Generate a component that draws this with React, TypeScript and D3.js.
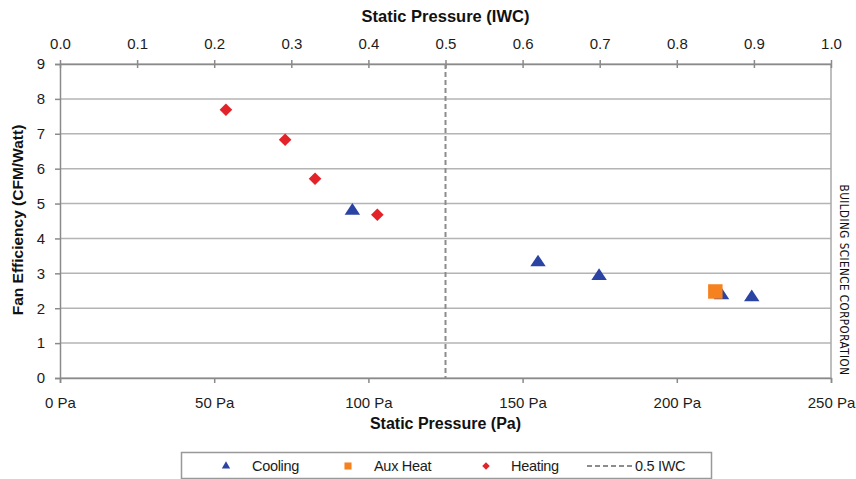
import { useEffect, useRef } from "react";
import * as d3 from "d3";

// values
const coolingPa = [94.8, 155.0, 174.8, 214.5, 224.3];
const coolingEff = [4.82, 3.34, 2.95, 2.4, 2.34];
const auxPa = [212.5];
const auxEff = [2.48];
const heatingPa = [53.8, 73.0, 82.7, 102.9];
const heatingEff = [7.69, 6.83, 5.71, 4.68];

const paTicks = [0, 50, 100, 150, 200, 250];
const iwcTicks = [0, 0.1, 0.2, 0.3, 0.4, 0.5, 0.6, 0.7, 0.8, 0.9, 1.0];
const effTicks = [0, 1, 2, 3, 4, 5, 6, 7, 8, 9];
const refLineIwc = 0.5;

const legendItems = ["Cooling", "Aux Heat", "Heating", "0.5 IWC"];

const BLUE = "#2b44a3";
const ORANGE = "#f5821f";
const RED = "#e3232a";
const FONT = "'Liberation Sans', Arial, sans-serif";

export default function App() {
  const svgRef = useRef<SVGSVGElement | null>(null);

  useEffect(() => {
    if (!svgRef.current) return;
    const svg = d3.select(svgRef.current);
    svg.selectAll("*").remove();

    const width = 856;
    const height = 479;
    const margin = { top: 64, right: 25, bottom: 101, left: 60 };
    const innerW = width - margin.left - margin.right;
    const innerH = height - margin.top - margin.bottom;

    const x = d3.scaleLinear().domain([0, 250]).range([0, innerW]);
    const xTop = d3.scaleLinear().domain([0, 1]).range([0, innerW]);
    const y = d3.scaleLinear().domain([0, 9]).range([innerH, 0]);

    const g = svg
      .append("g")
      .attr("transform", `translate(${margin.left},${margin.top})`)
      .style("font-family", FONT);

    // horizontal gridlines
    g.append("g")
      .selectAll("line")
      .data(effTicks)
      .join("line")
      .attr("x1", 0)
      .attr("x2", innerW)
      .attr("y1", (d) => y(d))
      .attr("y2", (d) => y(d))
      .attr("stroke", "#b4b4b4")
      .attr("stroke-width", 1.5);

    // right border
    g.append("line")
      .attr("x1", innerW)
      .attr("x2", innerW)
      .attr("y1", 0)
      .attr("y2", innerH)
      .attr("stroke", "#a8a8a8")
      .attr("stroke-width", 1.5);

    const styleAxis = (sel: d3.Selection<SVGGElement, unknown, null, undefined>) => {
      sel.selectAll("path,line").attr("stroke", "#8a8a8a").attr("stroke-width", 1.5);
      sel
        .selectAll("text")
        .attr("fill", "#1c1c1c")
        .style("font-family", FONT)
        .style("font-size", "15px");
    };

    // left axis
    const yAxis = g
      .append("g")
      .call(d3.axisLeft(y).tickValues(effTicks).tickFormat(d3.format("d")).tickSizeOuter(0).tickSize(5).tickPadding(10));
    styleAxis(yAxis);

    // bottom axis (Pa)
    const xAxis = g
      .append("g")
      .attr("transform", `translate(0,${innerH})`)
      .call(
        d3
          .axisBottom(x)
          .tickValues(paTicks)
          .tickFormat((d) => `${d} Pa`)
          .tickSizeOuter(0)
          .tickSize(5)
          .tickPadding(14),
      );
    styleAxis(xAxis);

    // top axis (IWC)
    const topAxis = g
      .append("g")
      .call(
        d3
          .axisTop(xTop)
          .tickValues(iwcTicks)
          .tickFormat(d3.format(".1f"))
          .tickSizeOuter(0)
          .tickSizeInner(4)
          .tickPadding(11),
      );
    styleAxis(topAxis);
    topAxis.selectAll(".tick line").attr("y2", 4).attr("y1", -4);

    // 0.5 IWC reference line
    g.append("line")
      .attr("x1", xTop(refLineIwc))
      .attr("x2", xTop(refLineIwc))
      .attr("y1", 0)
      .attr("y2", innerH)
      .attr("stroke", "#8c8c8c")
      .attr("stroke-width", 2)
      .attr("stroke-dasharray", "5,3");

    const tri = d3.symbol(d3.symbolTriangle, 78);
    const sq = d3.symbol(d3.symbolSquare, 210);
    const dia = d3.symbol(d3.symbolSquare, 80);

    const cooling = coolingPa.map((p, i) => ({ p, e: coolingEff[i] }));
    const aux = auxPa.map((p, i) => ({ p, e: auxEff[i] }));
    const heating = heatingPa.map((p, i) => ({ p, e: heatingEff[i] }));

    g.append("g")
      .selectAll("path")
      .data(cooling)
      .join("path")
      .attr("d", tri)
      .attr("transform", (d) => `translate(${x(d.p)},${y(d.e) + 1}) scale(1.15,1)`)
      .attr("fill", BLUE);

    g.append("g")
      .selectAll("path")
      .data(aux)
      .join("path")
      .attr("d", sq)
      .attr("transform", (d) => `translate(${x(d.p)},${y(d.e)})`)
      .attr("fill", ORANGE);

    g.append("g")
      .selectAll("path")
      .data(heating)
      .join("path")
      .attr("d", dia)
      .attr("transform", (d) => `translate(${x(d.p)},${y(d.e)}) rotate(45)`)
      .attr("fill", RED);

    // axis titles
    const boldTitle = (sel: d3.Selection<SVGTextElement, unknown, null, undefined>, size: string) =>
      sel
        .attr("text-anchor", "middle")
        .style("font-family", FONT)
        .style("font-size", size)
        .style("font-weight", "bold")
        .attr("fill", "#111");

    svg
      .append("text")
      .attr("x", margin.left + innerW / 2)
      .attr("y", 22)
      .call(boldTitle, "16.5px")
      .text("Static Pressure (IWC)");

    svg
      .append("text")
      .attr("x", margin.left + innerW / 2)
      .attr("y", 429)
      .call(boldTitle, "16px")
      .text("Static Pressure (Pa)");

    svg
      .append("text")
      .attr("transform", `translate(23,220) rotate(-90)`)
      .call(boldTitle, "15.5px")
      .text("Fan Efficiency (CFM/Watt)");

    svg
      .append("text")
      .attr("transform", `translate(840,${margin.top + innerH / 2 + 59}) rotate(90)`)
      .attr("text-anchor", "middle")
      .style("font-family", "'Liberation Sans Narrow', 'DejaVu Sans Condensed', sans-serif")
      .style("font-size", "11.5px")
      .style("letter-spacing", "0.5px")
      .attr("fill", "#111")
      .text("BUILDING SCIENCE CORPORATION");

    // legend
    const legend = svg.append("g").style("font-family", FONT);
    legend
      .append("rect")
      .attr("x", 181.5)
      .attr("y", 452.5)
      .attr("width", 530)
      .attr("height", 26)
      .attr("fill", "#fff")
      .attr("stroke", "#999")
      .attr("stroke-width", 1.5);

    const ly = 466;
    legend.append("path").attr("d", d3.symbol(d3.symbolTriangle, 30)).attr("transform", `translate(226,${ly})`).attr("fill", BLUE);
    legend.append("path").attr("d", d3.symbol(d3.symbolSquare, 50)).attr("transform", `translate(348,${ly})`).attr("fill", ORANGE);
    legend.append("path").attr("d", d3.symbol(d3.symbolSquare, 28)).attr("transform", `translate(486,${ly}) rotate(45)`).attr("fill", RED);
    legend
      .append("line")
      .attr("x1", 587)
      .attr("x2", 634)
      .attr("y1", ly)
      .attr("y2", ly)
      .attr("stroke", "#8c8c8c")
      .attr("stroke-width", 2)
      .attr("stroke-dasharray", "5,3");

    const textX = [252, 374, 511, 635];
    legend
      .selectAll("text")
      .data(legendItems)
      .join("text")
      .attr("x", (_, i) => textX[i])
      .attr("y", ly + 5)
      .style("font-size", "14.5px")
      .style("letter-spacing", "-0.3px")
      .attr("fill", "#1c1c1c")
      .text((d) => d);
  }, []);

  return (
    <div style={{ position: "absolute", left: 0, top: 0 }}>
      <svg ref={svgRef} width={856} height={479} style={{ display: "block", background: "#fff" }} />
    </div>
  );
}
